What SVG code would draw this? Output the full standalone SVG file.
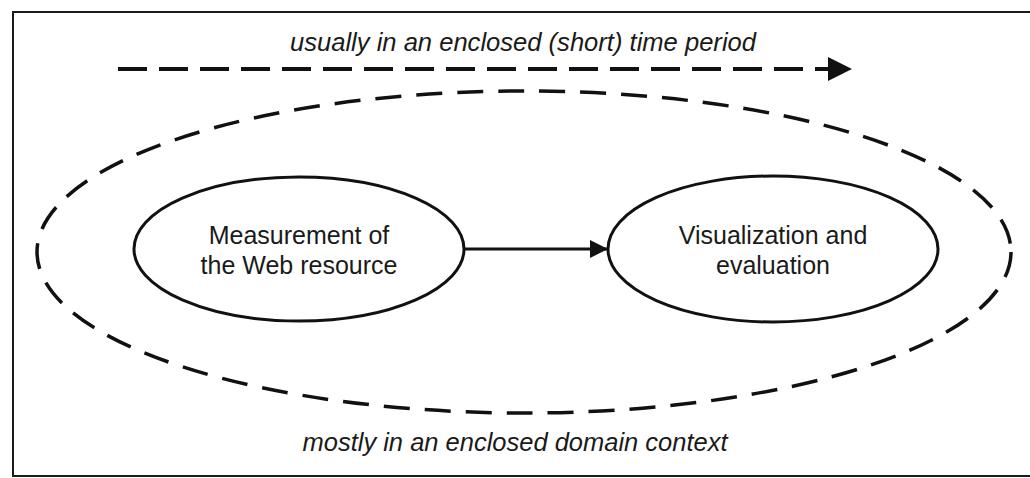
<svg xmlns="http://www.w3.org/2000/svg" width="1030" height="478" viewBox="0 0 1030 478">
  <style>
    .frame { fill: none; stroke: #1a1a1a; stroke-width: 2; }
    .node { fill: #ffffff; stroke: #111111; stroke-width: 3; }
    .label { font-family: "Liberation Sans", Arial, sans-serif; font-size: 25px; fill: #1a1a1a; text-anchor: middle; }
    .note { font-family: "Liberation Sans", Arial, sans-serif; font-style: italic; font-size: 25px; fill: #1a1a1a; }
    .flow { stroke: #111111; stroke-width: 3; fill: none; }
    .dashed { stroke: #111111; stroke-width: 4; fill: none; stroke-dasharray: 29 12; }
    .scope { stroke: #111111; stroke-width: 3.5; fill: none; stroke-dasharray: 26 15; }
  </style>
  <defs>
    <marker id="head" viewBox="0 0 10 10" refX="10" refY="5" markerWidth="9" markerHeight="6" markerUnits="strokeWidth" orient="auto">
      <path d="M0,0 L10,5 L0,10 Z" fill="#111111"/>
    </marker>
    <marker id="headBig" viewBox="0 0 10 10" refX="10" refY="5" markerWidth="8" markerHeight="6" markerUnits="strokeWidth" orient="auto">
      <path d="M0,0 L10,5 L0,10 Z" fill="#111111"/>
    </marker>
  </defs>
  <rect width="1030" height="478" fill="#ffffff"/>

  <!-- outer frame: left, top and bottom edges (right edge runs off the sheet) -->
  <path class="frame" d="M1032,12 L13,12 L13,476 L1032,476"/>

  <g id="time-period">
    <text class="note" x="523" y="51" text-anchor="middle" textLength="466" lengthAdjust="spacingAndGlyphs">usually in an enclosed (short) time period</text>
  </g>

  <g id="domain-context">
    <ellipse class="scope" cx="524" cy="252" rx="487" ry="161"/>
    <text class="note" x="515" y="451" text-anchor="middle" textLength="425" lengthAdjust="spacingAndGlyphs">mostly in an enclosed domain context</text>
  </g>

  <g id="measurement">
    <ellipse class="node" cx="299" cy="249" rx="165" ry="72"/>
    <text class="label" x="299" y="244">Measurement of</text>
    <text class="label" x="299" y="274">the Web resource</text>
  </g>

  <g id="visualization">
    <ellipse class="node" cx="773" cy="249" rx="165" ry="73"/>
    <text class="label" x="773" y="244">Visualization and</text>
    <text class="label" x="773" y="274">evaluation</text>
  </g>

  <g id="connectors">
    <line class="dashed" x1="118" y1="69" x2="852" y2="69" marker-end="url(#headBig)"/>
    <line class="flow" x1="464" y1="249" x2="608" y2="249" marker-end="url(#head)"/>
  </g>
</svg>
